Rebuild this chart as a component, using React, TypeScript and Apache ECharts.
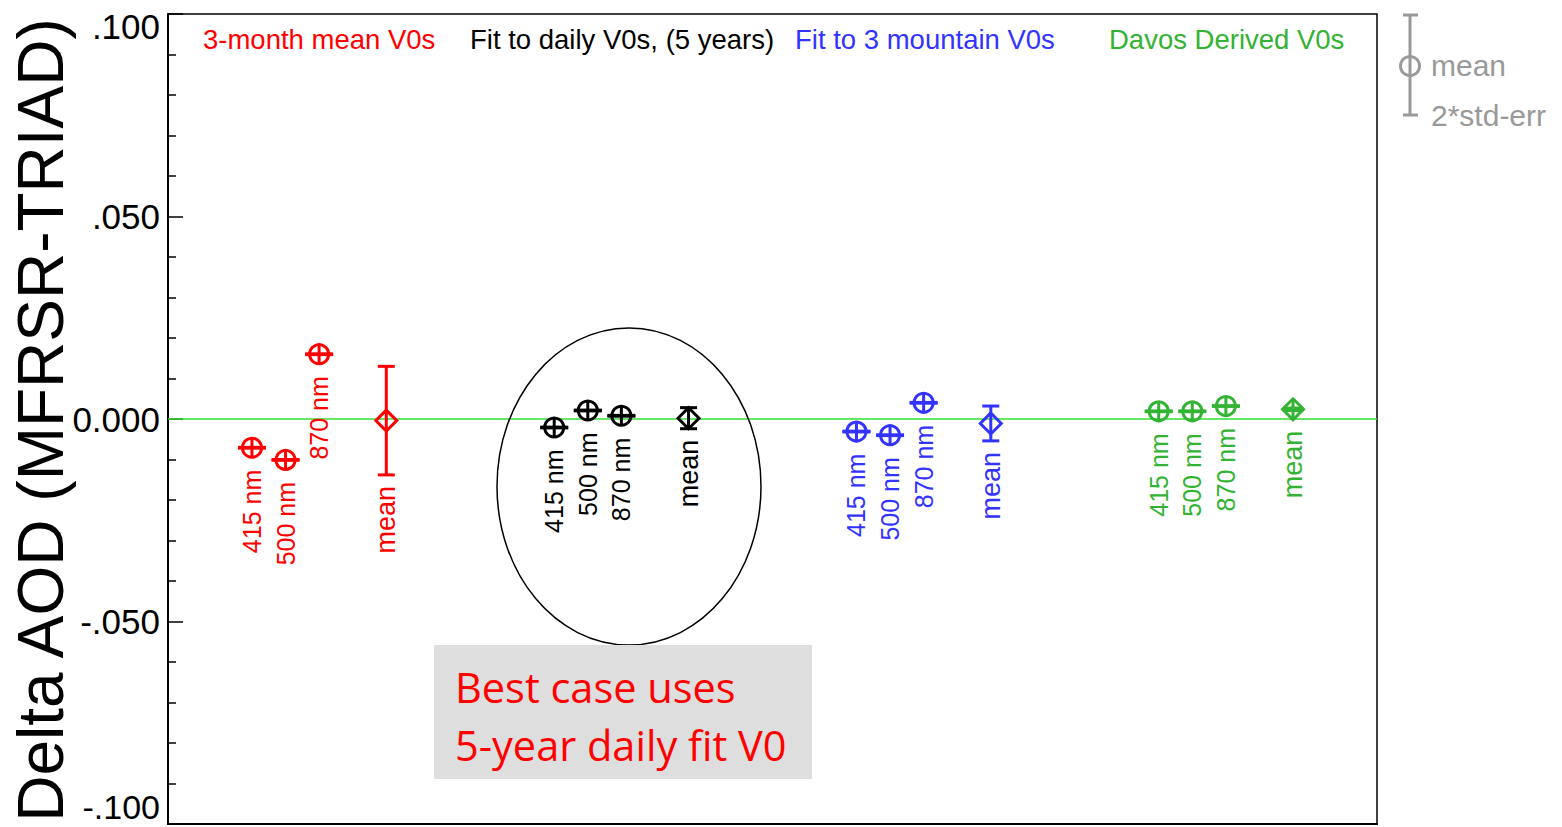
import React, { useEffect, useRef } from 'react';
import * as echarts from 'echarts';

// ---- data ----
const GROUP_NAMES = ['3-month mean V0s', 'Fit to daily V0s, (5 years)', 'Fit to 3 mountain V0s', 'Davos Derived V0s'];
const WAVELENGTHS = ['415 nm', '500 nm', '870 nm'];
const MEAN_LABEL = 'mean';
// x positions (axis units) of the 415 nm point in each group; 500/870 follow at +1/+2, mean at +4
const GROUP_START = [2.5, 11.5, 20.5, 29.5];
const MEAN_OFFSET = 4;
const V415 = [-0.0071, -0.0021, -0.0031, 0.0019];
const V500 = [-0.0101, 0.0021, -0.0040, 0.0019];
const V870 = [0.0160, 0.0008, 0.0040, 0.0032];
const MEAN_VALUES = [-0.0004, 0.0002, -0.0011, 0.0024];
const MEAN_ERR = [0.0134, 0.0026, 0.0043, 0.0003];
const POINT_ERR = [0.0001, 0.0001, 0.0001, 0.0001];
const Y_TICKS = [-0.1, -0.05, 0, 0.05, 0.1];
const Y_TICK_LABELS = ['-.100', '-.050', '0.000', '.050', '.100'];
const X_MIN = 0;
const X_MAX = 36;
const Y_TITLE = 'Delta AOD (MFRSR-TRIAD)';
const NOTE_LINES = ['Best case uses', '5-year daily fit V0'];
const LEGEND_TEXTS = ['mean', '2*std-err'];

// ---- styles ----
const GROUP_COLORS = ['#ff0000', '#000000', '#3333ff', '#33b333'];
const HEADER_X = [203, 470, 795, 1109];
const FONT = '"Liberation Sans", Arial, Helvetica, sans-serif';

function buildGroupData(g: number) {
  const vals = [V415[g], V500[g], V870[g]];
  const rows = vals.map((v, i) => [GROUP_START[g] + i, v, v - POINT_ERR[g], v + POINT_ERR[g]]);
  rows.push([GROUP_START[g] + MEAN_OFFSET, MEAN_VALUES[g], MEAN_VALUES[g] - MEAN_ERR[g], MEAN_VALUES[g] + MEAN_ERR[g]]);
  return rows;
}

function makeRenderItem(g: number) {
  const color = GROUP_COLORS[g];
  const labels = [...WAVELENGTHS, MEAN_LABEL];
  return (params: any, api: any) => {
    const x = api.value(0);
    const y = api.value(1);
    const lo = api.value(2);
    const hi = api.value(3);
    const c = api.coord([x, y]);
    const px = c[0];
    const py = c[1];
    const pLo = api.coord([x, lo])[1];
    const pHi = api.coord([x, hi])[1];
    const isMean = params.dataIndex === 3;
    const r = isMean ? 10.5 : 9.5;
    const capHalf = isMean ? 8.5 : 14;
    const lw = 3;
    const top = Math.min(pHi, py - r);
    const bottom = Math.max(pLo, py + r);
    const stroke = { stroke: color, lineWidth: lw, fill: 'none' };
    const children: any[] = [
      { type: 'line', shape: { x1: px, y1: top, x2: px, y2: bottom }, style: stroke },
      { type: 'line', shape: { x1: px - capHalf, y1: pHi, x2: px + capHalf, y2: pHi }, style: stroke },
      { type: 'line', shape: { x1: px - capHalf, y1: pLo, x2: px + capHalf, y2: pLo }, style: stroke },
    ];
    if (isMean) {
      children.push({
        type: 'polygon',
        shape: { points: [[px, py - r], [px + r, py], [px, py + r], [px - r, py]] },
        style: stroke,
      });
    } else {
      children.push({ type: 'circle', shape: { cx: px, cy: py, r }, style: stroke });
    }
    const labelTop = isMean ? Math.max(pLo, py + r) + 11 : py + 22;
    children.push({
      type: 'text',
      x: px,
      y: labelTop,
      rotation: Math.PI / 2,
      style: {
        text: labels[params.dataIndex],
        fill: color,
        fontSize: isMean ? 27 : 25,
        fontFamily: FONT,
        textAlign: 'right',
        textVerticalAlign: 'middle',
      },
    });
    return { type: 'group', children };
  };
}

export default function App() {
  const ref = useRef<HTMLDivElement>(null);
  useEffect(() => {
    if (!ref.current) return;
    const chart = echarts.init(ref.current, undefined, { renderer: 'svg' });
    const series: any[] = GROUP_NAMES.map((name, g) => ({
      type: 'custom',
      name,
      data: buildGroupData(g),
      encode: { x: 0, y: 1 },
      renderItem: makeRenderItem(g),
      z: 5,
    }));
    series.unshift({
      type: 'line',
      name: 'zero',
      data: [[X_MIN, 0], [X_MAX, 0]],
      symbol: 'none',
      lineStyle: { color: '#33e033', width: 1.5 },
      z: 3,
    });
    chart.setOption({
      animation: false,
      backgroundColor: '#ffffff',
      grid: { left: 168, right: 185, top: 14, bottom: 3, show: true, borderColor: '#000', borderWidth: 1.5 },
      xAxis: {
        type: 'value',
        min: X_MIN,
        max: X_MAX,
        axisLine: { show: true, onZero: false, lineStyle: { color: '#000', width: 2 } },
        axisTick: { show: false },
        axisLabel: { show: false },
        splitLine: { show: false },
      },
      yAxis: {
        type: 'value',
        min: -0.1,
        max: 0.1,
        interval: 0.05,
        axisLine: { show: true, lineStyle: { color: '#000', width: 2 } },
        axisTick: { show: true, inside: true, length: 15, lineStyle: { color: '#000', width: 1.5 } },
        minorTick: { show: true, splitNumber: 5, length: 8, lineStyle: { color: '#000', width: 1.5 } },
        axisLabel: { show: false },
        splitLine: { show: false },
      },
      series,
    });

    const graphic: any[] = [];
    // y tick labels
    Y_TICKS.forEach((t, i) => {
      let py = chart.convertToPixel({ yAxisIndex: 0 }, t) as number;
      if (i === Y_TICKS.length - 1) py += 12;
      if (i === 0) py -= 17;
      graphic.push({
        type: 'text',
        x: 160,
        y: py,
        style: { text: Y_TICK_LABELS[i], fill: '#000', fontSize: i === 0 ? 34 : 35, fontFamily: FONT, textAlign: 'right', textVerticalAlign: 'middle' },
      });
    });
    // y title
    graphic.push({
      type: 'text',
      x: 41,
      y: 420,
      rotation: Math.PI / 2,
      style: { text: Y_TITLE, fill: '#000', fontSize: 64, fontFamily: FONT, textAlign: 'center', textVerticalAlign: 'middle' },
    });
    // headers
    GROUP_NAMES.forEach((name, g) => {
      graphic.push({
        type: 'text',
        x: HEADER_X[g],
        y: 39,
        style: { text: name, fill: GROUP_COLORS[g], fontSize: 27.5, fontFamily: FONT, textAlign: 'left', textVerticalAlign: 'middle' },
      });
    });
    // legend (gray error bar)
    const gray = '#999999';
    graphic.push(
      { type: 'line', shape: { x1: 1410, y1: 15, x2: 1410, y2: 115 }, style: { stroke: gray, lineWidth: 3 } },
      { type: 'line', shape: { x1: 1403, y1: 15, x2: 1418, y2: 15 }, style: { stroke: gray, lineWidth: 3 } },
      { type: 'line', shape: { x1: 1403, y1: 115, x2: 1418, y2: 115 }, style: { stroke: gray, lineWidth: 3 } },
      { type: 'circle', shape: { cx: 1410, cy: 66, r: 9.5 }, style: { stroke: gray, lineWidth: 3, fill: '#fff' } },
      { type: 'line', shape: { x1: 1410, y1: 56, x2: 1410, y2: 76 }, style: { stroke: gray, lineWidth: 3 } },
      { type: 'text', x: 1431, y: 65, style: { text: LEGEND_TEXTS[0], fill: gray, fontSize: 30, fontFamily: FONT, textAlign: 'left', textVerticalAlign: 'middle' } },
      { type: 'text', x: 1431, y: 115, style: { text: LEGEND_TEXTS[1], fill: gray, fontSize: 30, fontFamily: FONT, textAlign: 'left', textVerticalAlign: 'middle' } },
    );
    // ellipse annotation
    graphic.push({ type: 'ellipse', shape: { cx: 629, cy: 486.5, rx: 132, ry: 158.5 }, style: { stroke: '#000', lineWidth: 1.5, fill: 'none' }, z: 10 });
    // note box
    graphic.push(
      { type: 'rect', shape: { x: 434, y: 645, width: 378, height: 134 }, style: { fill: '#dedede' }, z: 11 },
      { type: 'text', x: 455, y: 687, z: 12, style: { text: NOTE_LINES[0], fill: '#ff0000', fontSize: 41.5, fontFamily: '"Open Sans", sans-serif', textAlign: 'left', textVerticalAlign: 'middle' } },
      { type: 'text', x: 455, y: 745, z: 12, style: { text: NOTE_LINES[1], fill: '#ff0000', fontSize: 41.5, fontFamily: '"Open Sans", sans-serif', textAlign: 'left', textVerticalAlign: 'middle' } },
    );
    chart.setOption({ graphic });
    return () => chart.dispose();
  }, []);
  return <div ref={ref} style={{ position: 'fixed', left: 0, top: 0, width: 1562, height: 827, background: '#fff' }} />;
}
